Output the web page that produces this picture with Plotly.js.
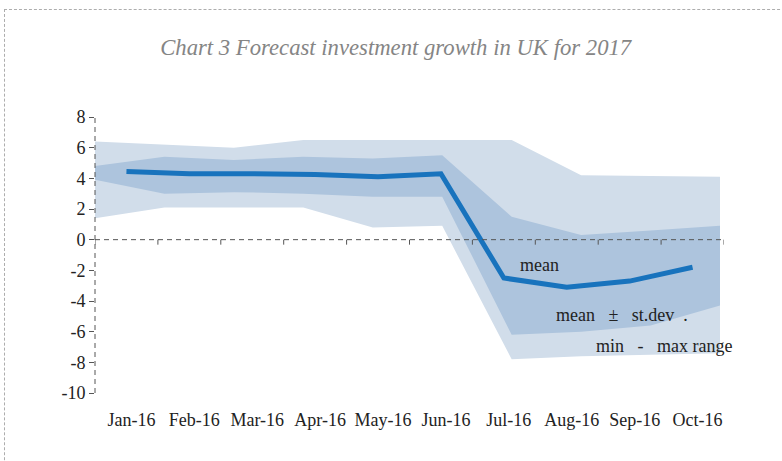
<!DOCTYPE html>
<html>
<head>
<meta charset="utf-8">
<script src="https://cdn.plot.ly/plotly-3.0.1.min.js"></script>
<style>
  html, body { margin: 0; padding: 0; background: #fff; }
  #wrap { position: relative; width: 782px; height: 461px; overflow: hidden; }
  #chart { width: 782px; height: 461px; }
  #frame { position: absolute; left: 4px; top: 9px; width: 800px; height: 500px;
           border-top: 1px dashed #adadad; border-left: 1px dashed #adadad; pointer-events: none; }
</style>
</head>
<body>
<div id="wrap">
  <div id="chart"></div>
  <div id="frame"></div>
</div>
<script>
// ---- data ----
const months = ['Jan-16','Feb-16','Mar-16','Apr-16','May-16','Jun-16','Jul-16','Aug-16','Sep-16','Oct-16'];
const meanVals  = [4.45, 4.3, 4.3, 4.25, 4.1, 4.3, -2.5, -3.1, -2.7, -1.8];
const sdUpper   = [4.8, 5.4, 5.2, 5.4, 5.3, 5.5, 1.5, 0.3, 0.6, 0.9];
const sdLower   = [3.9, 3.0, 3.1, 3.0, 2.8, 2.8, -6.2, -6.0, -5.6, -4.3];
const rangeMax  = [6.4, 6.2, 6.0, 6.5, 6.5, 6.5, 6.5, 4.2, 4.15, 4.1];
const rangeMin  = [1.4, 2.1, 2.1, 2.1, 0.8, 0.9, -7.8, -7.6, -7.5, -7.4];
const yTickVals   = [-10, -8, -6, -4, -2, 0, 2, 4, 6, 8];
const yTickLabels = ['-10', '-8', '-6', '-4', '-2', '0', '2', '4', '6', '8'];

const idx = months.map((_, i) => i);
const boundaries = [-0.5].concat(idx.map(i => i + 0.5));

const lightBand = 'rgb(209,221,234)';
const darkBand  = 'rgb(173,196,221)';
const lineCol   = 'rgb(24,115,189)';
const serif = 'Liberation Serif';
const sp = '\u00a0';

const traces = [
  { x: idx, y: rangeMax, xaxis: 'x', yaxis: 'y', mode: 'lines', line: {width: 0, color: lightBand},
    hoverinfo: 'skip', showlegend: false },
  { x: idx, y: rangeMin, xaxis: 'x', yaxis: 'y', mode: 'lines', line: {width: 0, color: lightBand},
    fill: 'tonexty', fillcolor: lightBand, hoverinfo: 'skip', showlegend: false },
  { x: idx, y: sdUpper, xaxis: 'x', yaxis: 'y', mode: 'lines', line: {width: 0, color: darkBand},
    hoverinfo: 'skip', showlegend: false },
  { x: idx, y: sdLower, xaxis: 'x', yaxis: 'y', mode: 'lines', line: {width: 0, color: darkBand},
    fill: 'tonexty', fillcolor: darkBand, hoverinfo: 'skip', showlegend: false },
  { x: months, y: meanVals, xaxis: 'x2', yaxis: 'y', mode: 'lines',
    line: {width: 5, color: lineCol}, showlegend: false }
];

const tickShapes = boundaries.map(b => ({
  type: 'line', xref: 'x2', yref: 'y', ysizemode: 'pixel', yanchor: 0,
  x0: b, x1: b, y0: 0, y1: -5, line: {color: '#555', width: 1}, layer: 'above'
}));

const layout = {
  width: 782, height: 461,
  margin: {l: 95, r: 58, t: 117, b: 68},
  paper_bgcolor: '#fff', plot_bgcolor: 'rgba(0,0,0,0)',
  showlegend: false,
  title: {
    text: 'Chart 3 Forecast investment growth in UK for 2017',
    font: {family: serif, size: 22.7, color: '#858585', style: 'italic'},
    x: 0.506, xanchor: 'center', xref: 'container',
    y: 0.897, yanchor: 'middle', yref: 'container'
  },
  xaxis: {
    range: [0, 9 * 629 / 625], visible: false,
    showgrid: false, zeroline: false
  },
  xaxis2: {
    type: 'category', overlaying: 'x', anchor: 'y', side: 'bottom', range: [-0.5, 9.5],
    showgrid: false, zeroline: false, showline: false,
    ticks: '', ticklabelstandoff: 14, ticklabelshift: 5,
    tickfont: {family: serif, size: 18, color: '#222'}
  },
  yaxis: {
    range: [-10, 8], tickmode: 'array', tickvals: yTickVals, ticktext: yTickLabels,
    ticks: 'outside', ticklen: 5, tickwidth: 1, tickcolor: '#555',
    showgrid: false, zeroline: false, showline: false,
    tickfont: {family: serif, size: 18, color: '#222'}
  },
  shapes: [
    { type: 'line', xref: 'x domain', yref: 'y', x0: 0, x1: 1, y0: 0, y1: 0,
      line: {color: '#555', width: 1, dash: '5px,4px'}, layer: 'above' },
    { type: 'line', xref: 'x domain', yref: 'y domain', x0: 0, x1: 0, y0: 0, y1: 1,
      line: {color: '#555', width: 1, dash: '5px,4px'}, layer: 'above' }
  ].concat(tickShapes),
  annotations: [
    { x: 6.56, y: -1.65, xref: 'x2', yref: 'y', text: 'mean', showarrow: false,
      font: {family: serif, size: 18, color: '#222'} },
    { x: 7.88, y: -4.9, xref: 'x2', yref: 'y',
      text: 'mean' + sp.repeat(3) + '±' + sp.repeat(3) + 'st.dev' + sp.repeat(2) + '.', showarrow: false,
      font: {family: serif, size: 18, color: '#222'} },
    { x: 8.55, y: -6.95, xref: 'x2', yref: 'y',
      text: 'min' + sp.repeat(3) + '-' + sp.repeat(3) + 'max range', showarrow: false,
      font: {family: serif, size: 18, color: '#222'} }
  ]
};

Plotly.newPlot('chart', traces, layout, {displayModeBar: false, staticPlot: true});
</script>
</body>
</html>
